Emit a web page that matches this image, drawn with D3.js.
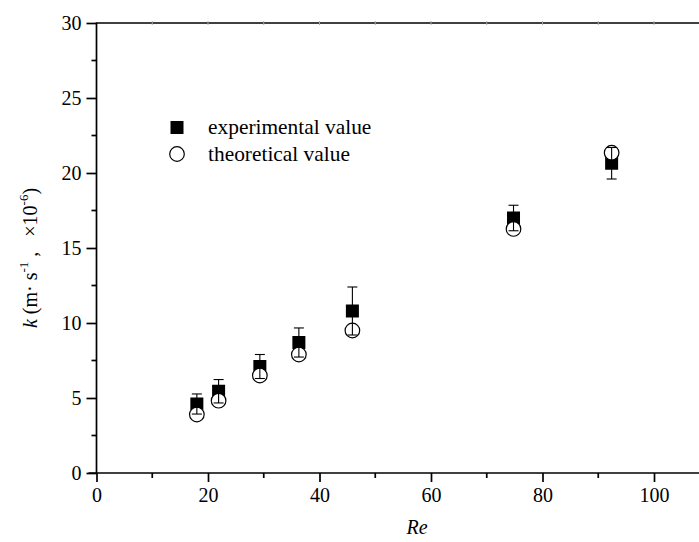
<!DOCTYPE html>
<html>
<head>
<meta charset="utf-8">
<script src="https://cdn.jsdelivr.net/npm/d3@7"></script>
<style>
  html, body { margin: 0; padding: 0; background: #fff; }
  svg { display: block; }
  svg text { font-family: "Liberation Serif", "Times New Roman", Times, serif; }
</style>
</head>
<body>
<svg id="chart" width="699" height="542"></svg>
<script>
// Reynolds number of each run
const reynolds = [18.0, 21.9, 29.3, 36.3, 45.9, 74.8, 92.4];
// Mass transfer coefficient k (×10^-6 m·s^-1)
const experimental = [4.6, 5.45, 7.1, 8.7, 10.8, 17.0, 20.65];
const experimentalErr = [0.67, 0.78, 0.8, 0.97, 1.6, 0.85, 1.05];
const theoretical = [3.9, 4.82, 6.5, 7.9, 9.5, 16.27, 21.35];

const xTicks = [0, 20, 40, 60, 80, 100];
const yTicks = [0, 5, 10, 15, 20, 25, 30];
const legendLabels = ["experimental value", "theoretical value"];

const FONT = "'Liberation Serif', 'Times New Roman', serif";
const svg = d3.select("#chart");
const plotLeft = 96.5, plotTop = 23, plotBottom = 473;
const pxPerRe = 5.575;

const x = d3.scaleLinear().domain([0, 110]).range([plotLeft, plotLeft + 110 * pxPerRe]);
const y = d3.scaleLinear().domain([0, 30]).range([plotBottom, plotTop]);

const axisW = 1.7;

// bottom axis: majors every 20, minors every 10
const xAxis = d3.axisBottom(x).tickValues(xTicks).tickSize(9).tickPadding(6).tickFormat(d3.format("d"));
const gx = svg.append("g").attr("transform", `translate(0,${plotBottom})`).call(xAxis)
  .attr("font-family", null).attr("font-size", null);
gx.selectAll(".tick text").attr("fill", "#000").style("font-family", FONT).style("font-size", "20px");
gx.selectAll("line").attr("stroke", "#000").attr("stroke-width", axisW);
gx.select(".domain").attr("stroke", "#000").attr("stroke-width", axisW).attr("d", `M${x(0) - 8},0H${x(110)}`);
svg.append("g").attr("transform", `translate(0,${plotBottom})`)
  .selectAll("line").data(d3.range(10, 110, 20)).join("line")
  .attr("x1", d => x(d)).attr("x2", d => x(d)).attr("y1", 0).attr("y2", 5)
  .attr("stroke", "#000").attr("stroke-width", axisW);

// left axis: majors every 5, minors every 2.5
const yAxis = d3.axisLeft(y).tickValues(yTicks).tickSize(10).tickPadding(5).tickFormat(d3.format("d"));
const gy = svg.append("g").attr("transform", `translate(${plotLeft},0)`).call(yAxis)
  .attr("font-family", null).attr("font-size", null);
gy.selectAll(".tick text").attr("fill", "#000").style("font-family", FONT).style("font-size", "20px");
gy.selectAll("line").attr("stroke", "#000").attr("stroke-width", axisW);
gy.select(".domain").attr("stroke", "#000").attr("stroke-width", axisW).attr("d", `M0,${y(0)}V${y(30)}`);
svg.append("g").attr("transform", `translate(${plotLeft},0)`)
  .selectAll("line").data(d3.range(2.5, 30, 5)).join("line")
  .attr("x1", 0).attr("x2", -5).attr("y1", d => y(d)).attr("y2", d => y(d))
  .attr("stroke", "#000").attr("stroke-width", axisW);

// top frame line with faint ticks
svg.append("line").attr("x1", plotLeft - axisW / 2).attr("x2", x(110)).attr("y1", plotTop).attr("y2", plotTop)
  .attr("stroke", "#000").attr("stroke-width", axisW);
svg.append("g").selectAll("line").data(d3.range(10, 110, 10)).join("line")
  .attr("x1", d => x(d)).attr("x2", d => x(d)).attr("y1", plotTop - 2).attr("y2", plotTop + 2)
  .attr("stroke", "#aaa").attr("stroke-width", 1);

// axis titles
svg.append("text").attr("x", 417).attr("y", 534).attr("text-anchor", "middle")
  .style("font-family", FONT).style("font-size", "20px").style("font-style", "italic").text("Re");

const yTitle = svg.append("text").attr("transform", "translate(37,258) rotate(-90)")
  .attr("text-anchor", "middle").style("font-family", FONT).style("font-size", "20px");
yTitle.append("tspan").style("font-style", "italic").text("k");
yTitle.append("tspan").text(" (m· s");
yTitle.append("tspan").style("font-size", "13px").attr("dy", -9).text("-1");
yTitle.append("tspan").attr("dy", 9).text("\u00A0,\u00A0\u00A0\u00A0×10");
yTitle.append("tspan").style("font-size", "13px").attr("dy", -9).text("-6");
yTitle.append("tspan").attr("dy", 9).text(")");

const sq = 13, r = 7.3, cap = 5;
const pts = reynolds.map((re, i) => ({ re, exp: experimental[i], err: experimentalErr[i], theo: theoretical[i] }));

// experimental squares
svg.append("g").selectAll("rect").data(pts).join("rect")
  .attr("x", d => x(d.re) - sq / 2).attr("y", d => y(d.exp) - sq / 2)
  .attr("width", sq).attr("height", sq).attr("fill", "#000");

// theoretical circles
svg.append("g").selectAll("circle").data(pts).join("circle")
  .attr("cx", d => x(d.re)).attr("cy", d => y(d.theo)).attr("r", r)
  .attr("fill", "#fff").attr("stroke", "#000").attr("stroke-width", 1.2);

// error bars for the experimental series
const eb = svg.append("g").attr("stroke", "#000").attr("stroke-width", 1.1);
eb.selectAll("line.v").data(pts).join("line").attr("class", "v")
  .attr("x1", d => x(d.re)).attr("x2", d => x(d.re))
  .attr("y1", d => y(d.exp - d.err)).attr("y2", d => y(d.exp + d.err));
eb.selectAll("line.hi").data(pts).join("line").attr("class", "hi")
  .attr("x1", d => x(d.re) - cap).attr("x2", d => x(d.re) + cap)
  .attr("y1", d => y(d.exp + d.err)).attr("y2", d => y(d.exp + d.err));
eb.selectAll("line.lo").data(pts).join("line").attr("class", "lo")
  .attr("x1", d => x(d.re) - cap).attr("x2", d => x(d.re) + cap)
  .attr("y1", d => y(d.exp - d.err)).attr("y2", d => y(d.exp - d.err));

// legend
const lg = svg.append("g");
lg.append("rect").attr("x", 177 - sq / 2).attr("y", 127.5 - sq / 2).attr("width", sq).attr("height", sq).attr("fill", "#000");
lg.append("circle").attr("cx", 177).attr("cy", 154).attr("r", r).attr("fill", "#fff").attr("stroke", "#000").attr("stroke-width", 1.2);
lg.selectAll("text").data(legendLabels).join("text")
  .attr("x", 208).attr("y", (d, i) => 134 + i * 27)
  .style("font-family", FONT).style("font-size", "21.4px").text(d => d);
</script>
</body>
</html>
